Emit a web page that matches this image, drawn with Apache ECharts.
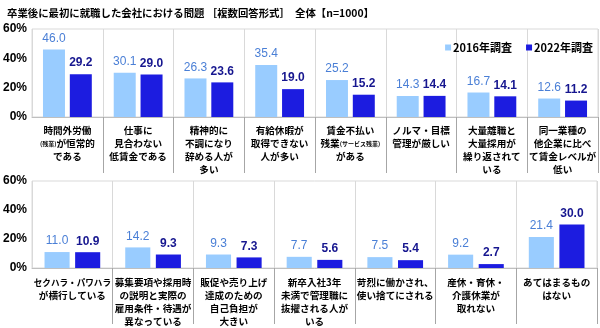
<!DOCTYPE html>
<html><head><meta charset="utf-8">
<script src="https://cdn.jsdelivr.net/npm/echarts@6/dist/echarts.min.js"></script>
<style>html,body{margin:0;padding:0;background:#fff}#c{width:600px;height:328px}</style>
</head><body><div id="c"></div>
<script>
const titleText = '卒業後に最初に就職した会社における問題 ［複数回答形式］　全体【n=1000】';
const seriesNames = ['2016年調査', '2022年調査'];
const topCategories = [
  '時間外労働\n{s|(残業)}が恒常的\nである',
  '仕事に\n見合わない\n低賃金である',
  '精神的に\n不調になり\n辞める人が\n多い',
  '有給休暇が\n取得できない\n人が多い',
  '賃金不払い\n残業{s|(サービス残業)}\nがある',
  'ノルマ・目標\n管理が厳しい',
  '大量離職と\n大量採用が\n繰り返されて\nいる',
  '同一業種の\n他企業に比べ\nて賃金レベルが\n低い'
];
const top2016 = [46.0, 30.1, 26.3, 35.4, 25.2, 14.3, 16.7, 12.6];
const top2022 = [29.2, 29.0, 23.6, 19.0, 15.2, 14.4, 14.1, 11.2];
const bottomCategories = [
  'セクハラ・パワハラ\nが横行している',
  '募集要項や採用時\nの説明と実際の\n雇用条件・待遇が\n異なっている',
  '販促や売り上げ\n達成のための\n自己負担が\n大きい',
  '新卒入社3年\n未満で管理職に\n抜擢される人が\nいる',
  '苛烈に働かされ、\n使い捨てにされる',
  '産休・育休・\n介護休業が\n取れない',
  'あてはまるもの\nはない'
];
const bottom2016 = [11.0, 14.2, 9.3, 7.7, 7.5, 9.2, 21.4];
const bottom2022 = [10.9, 9.3, 7.3, 5.6, 5.4, 2.7, 30.0];
const yTicks = [0, 20, 40, 60];

const C16 = '#99ccff', C22 = '#1c1ce0';
const L16 = '#4a7fd6', L22 = '#16168f';
const JP = '"Noto Sans CJK JP", sans-serif';
const NUM = '"Liberation Sans", Arial, sans-serif';

function fitLines(v) {
  return v.split('\n').map(function (line) {
    return (line.indexOf('{') < 0 && line.length > 8) ? '{n|' + line + '}' : line;
  }).join('\n');
}
function xAxis(gi, cats, margin) {
  return {
    type: 'category', gridIndex: gi, data: cats,
    axisLine: { lineStyle: { color: '#bfbfbf' } },
    axisTick: { show: true, length: 56, lineStyle: { color: '#a6a6a6' },
      interval: function (i) { return i > 0; } },
    splitLine: { show: true, lineStyle: { color: '#d9d9d9' } },
    axisLabel: { interval: 0, margin: margin, color: '#000', fontFamily: JP, fontWeight: 'bold',
      fontSize: 9.6, lineHeight: 13, formatter: fitLines,
      rich: {
        s: { fontSize: 6, fontFamily: JP, fontWeight: 'bold', color: '#000', lineHeight: 13 },
        n: { fontSize: 8.6, fontFamily: JP, fontWeight: 'bold', color: '#000', lineHeight: 13 }
      } }
  };
}
function yAxis(gi) {
  return {
    type: 'value', gridIndex: gi, min: yTicks[0], max: yTicks[yTicks.length - 1], interval: 20,
    axisLine: { show: false }, axisTick: { show: false }, splitLine: { show: false },
    axisLabel: { formatter: '{value}%', color: '#000', fontFamily: NUM, fontSize: 12, fontWeight: 'bold', margin: 5 }
  };
}
function bar(name, gi, data, color, lcolor, bold) {
  return {
    name: name, type: 'bar', xAxisIndex: gi, yAxisIndex: gi, data: data,
    barGap: '22%', barCategoryGap: '31%',
    itemStyle: { color: color },
    label: { show: true, position: 'top', distance: 5, color: lcolor, fontFamily: NUM, fontSize: 12,
      fontWeight: bold ? 'bold' : 'normal',
      formatter: function (p) { return p.value.toFixed(1); } }
  };
}

const chart = echarts.init(document.getElementById('c'));
chart.setOption({
  animation: false,
  title: { text: titleText, left: 2, top: 3, textStyle: { fontFamily: JP, fontSize: 10.4, fontWeight: 'bold', color: '#000' } },
  legend: { data: seriesNames, right: 2, top: 37, itemWidth: 6, itemHeight: 6, itemGap: 14, icon: 'rect',
    textStyle: { fontFamily: JP, fontSize: 11, fontWeight: 'bold', color: '#000', padding: [0, 0, 0, -3] } },
  grid: [
    { left: 30, top: 29, width: 568, height: 88, show: true, borderColor: '#d9d9d9', borderWidth: 1 },
    { left: 30, top: 181, width: 567, height: 88, show: true, borderColor: '#d9d9d9', borderWidth: 1 }
  ],
  xAxis: [xAxis(0, topCategories, 7), xAxis(1, bottomCategories, 8)],
  yAxis: [yAxis(0), yAxis(1)],
  series: [
    bar(seriesNames[0], 0, top2016, C16, L16, false),
    bar(seriesNames[1], 0, top2022, C22, L22, true),
    bar(seriesNames[0], 1, bottom2016, C16, L16, false),
    bar(seriesNames[1], 1, bottom2022, C22, L22, true)
  ]
});
</script></body></html>
